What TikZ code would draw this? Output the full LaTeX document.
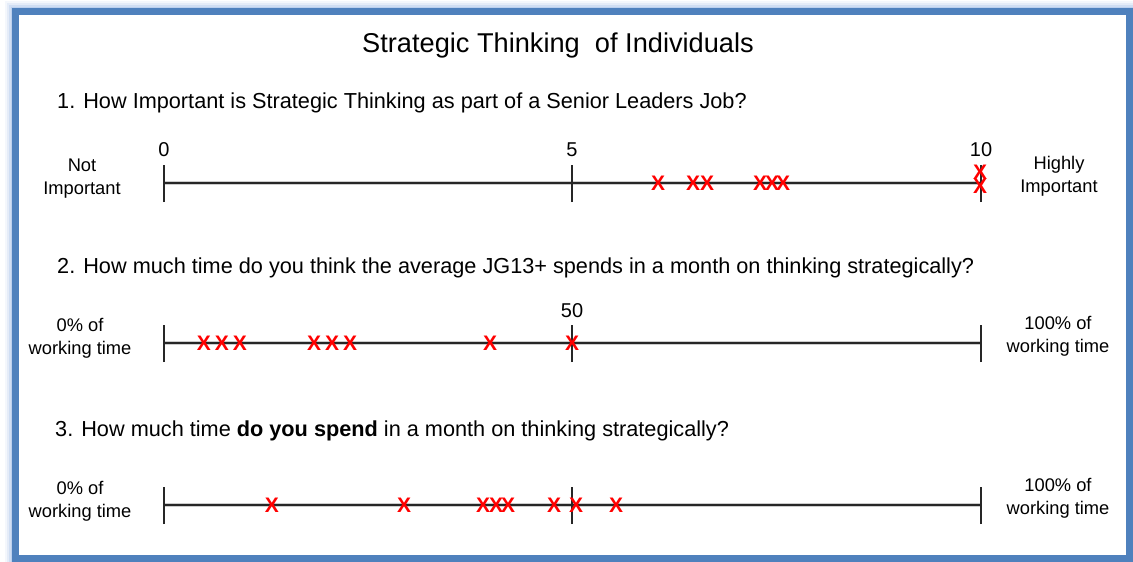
\documentclass[tikz,border=0pt]{standalone}
\usepackage{fontspec}
\setmainfont{Liberation Sans}
\definecolor{frameblue}{HTML}{4F81BD}
\definecolor{glowblue}{HTML}{A9C4EA}
\definecolor{markred}{HTML}{FF0000}

\tikzset{
  question/.style={anchor=west, inner sep=0pt, font=\fontsize{21.7}{26}\selectfont},
  endlabel/.style={align=center, inner sep=0pt, font=\fontsize{18.3}{23}\selectfont},
  number/.style={inner sep=0pt, font=\fontsize{20}{24}\selectfont},
  scaleline/.style={line width=2.5pt, black!85},
  tick/.style={line width=2.2pt, black!85},
  cross/.style={inner sep=0pt, text=markred, font=\fontsize{21}{21}\selectfont\bfseries}
}

\begin{document}
\begin{tikzpicture}[x=1pt, y=-1pt]
    % page
    \fill[white] (0,0) rectangle (1133,562);
    \useasboundingbox (0,0) rectangle (1133,562);
    % frame with glow
    \foreach \w/\o in {22/0.12, 18/0.2, 14/0.35, 10/0.5}
      \draw[glowblue, opacity=\o, line width=\w pt] (15.5,11.5) rectangle (1129.5,558.5);
    \fill[white] (15.5,11.5) rectangle (1129.5,558.5);
    \draw[frameblue, line width=7pt] (15.5,11.5) rectangle (1129.5,558.5);

    % title
    \node[font=\fontsize{27.2}{32}\selectfont] (title) at (558,45) {Strategic Thinking\ \ of Individuals};

    % questions
    \node[question] (q1) at (57,103) {1. How Important is Strategic Thinking as part of a Senior Leaders Job?};
    \node[question] (q2) at (57,268) {2. How much time do you think the average JG13+ spends in a month on thinking strategically?};
    \node[question] (q3) at (55,431) {3. How much time \textbf{do you spend} in a month on thinking strategically?};

    % scale positions
    \coordinate (s1a) at (164,183); \coordinate (s1m) at (572,183); \coordinate (s1b) at (981,183);
    \coordinate (s2a) at (164,343); \coordinate (s2m) at (572,343); \coordinate (s2b) at (981,343);
    \coordinate (s3a) at (164,505); \coordinate (s3m) at (572,505); \coordinate (s3b) at (981,505);

    % scales
    \foreach \s in {1,2,3}{
      \draw[gray!40, line width=4pt] (s\s a) -- (s\s b);
      \draw[scaleline] (s\s a) -- (s\s b);
      \draw[tick] ([yshift=-19]s\s a) -- ([yshift=18]s\s a);
      \draw[tick] ([yshift=-19]s\s m) -- ([yshift=18]s\s m);
      \draw[tick] ([yshift=-19]s\s b) -- ([yshift=18]s\s b);
    }

    % numbers
    \node[number] (n0) at (164,150) {0};
    \node[number] (n5) at (572,150) {5};
    \node[number] (n10) at (981,150) {10};
    \node[number] (n50) at (572,311) {50};

    % end labels
    \node[endlabel] (l1a) at (82,179) {Not\\Important};
    \node[endlabel] (l1b) at (1059,176) {Highly\\Important};
    \node[endlabel] (l2a) at (80,338) {0\% of\\working time};
    \node[endlabel] (l2b) at (1058,336) {100\% of\\working time};
    \node[endlabel] (l3a) at (80,501) {0\% of\\working time};
    \node[endlabel] (l3b) at (1058,498) {100\% of\\working time};

    % answers
    \foreach \x [count=\i] in {658,693,707,760,772,783}
      \node[cross] (x1-\i) at (\x,183) {X};
    \node[cross] (x1-7) at (980,172) {X};
    \node[cross] (x1-8) at (980,186) {X};
    \foreach \x [count=\i] in {204,222,240,314,332,350,490,572}
      \node[cross] (x2-\i) at (\x,343) {X};
    \foreach \x [count=\i] in {272,404,483,496,508,554,576,616}
      \node[cross] (x3-\i) at (\x,505) {X};
\end{tikzpicture}
\end{document}
